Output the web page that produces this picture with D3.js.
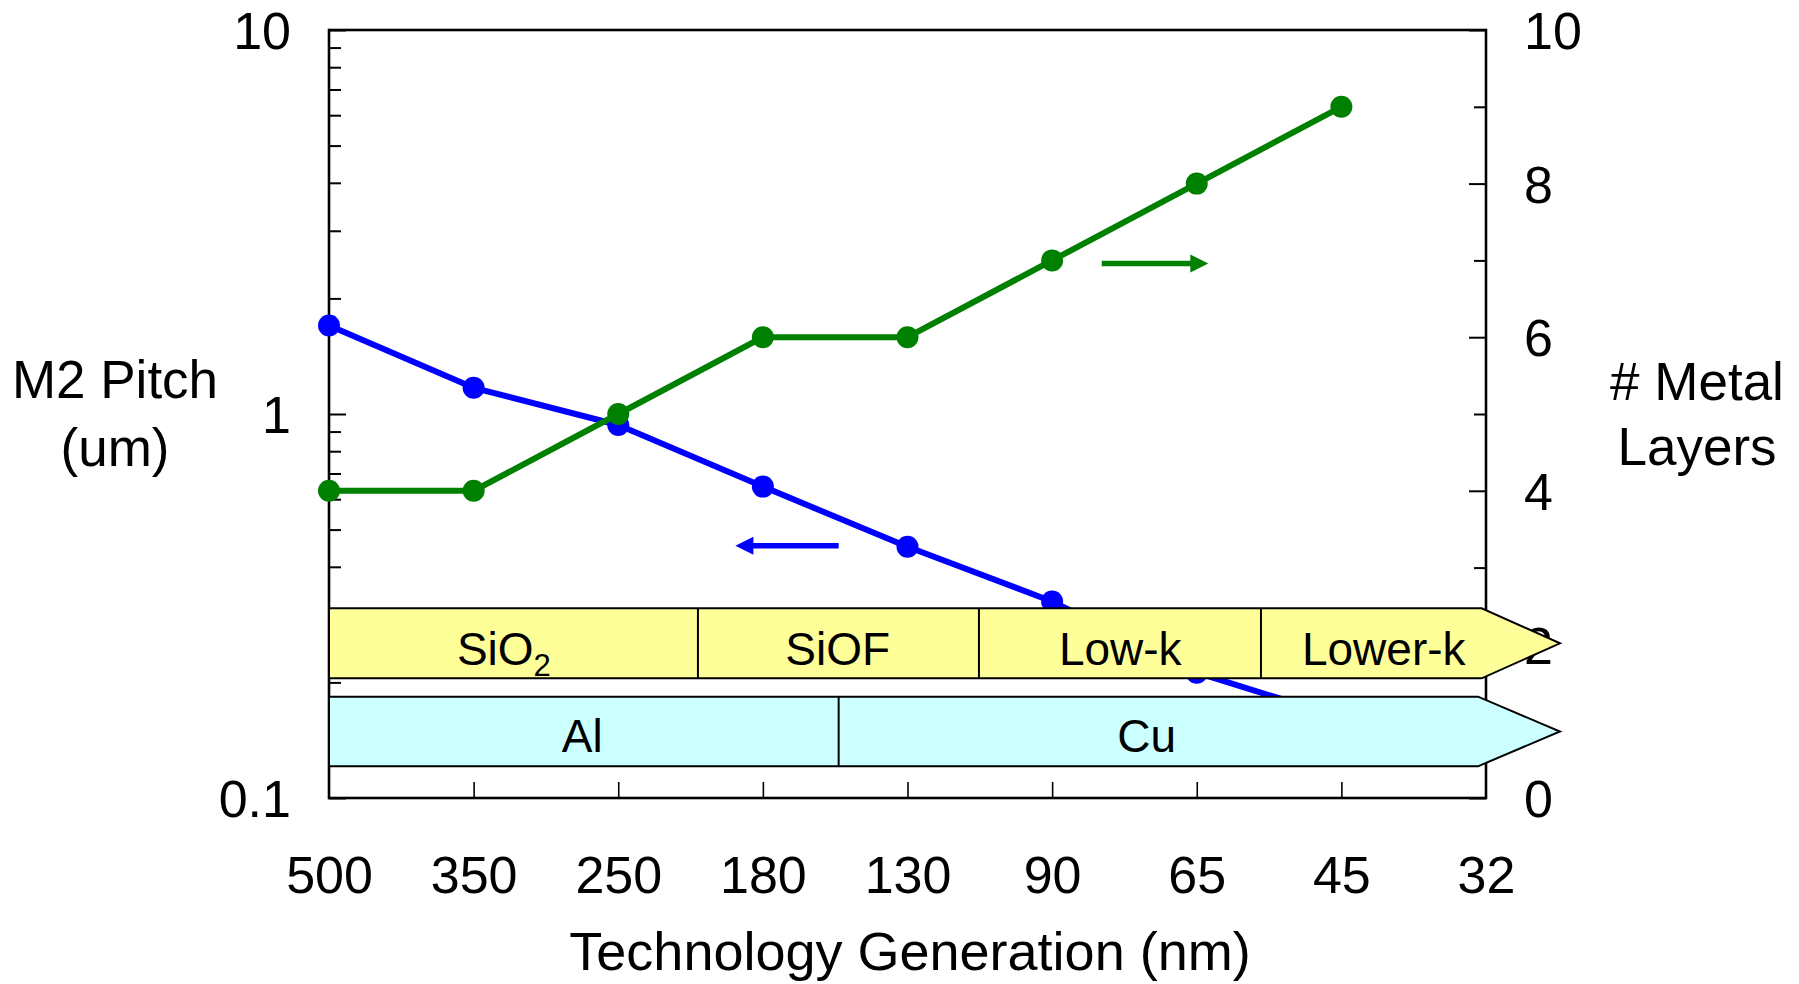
<!DOCTYPE html>
<html>
<head>
<meta charset="utf-8">
<script src="https://cdn.jsdelivr.net/npm/d3@7"></script>
<style>
  html, body { margin: 0; padding: 0; background: #fff; }
  svg { display: block; }
  text { font-family: "Liberation Sans", Arial, sans-serif; fill: #000; }
</style>
</head>
<body>
<svg id="chart" width="1799" height="984"></svg>
<script>
// ---------- data ----------
const generations = ["500", "350", "250", "180", "130", "90", "65", "45", "32"];
const pitchGenerations = ["500", "350", "250", "180", "130", "90", "65", "45"];
const m2Pitch = [1.70, 1.17, 0.936, 0.647, 0.451, 0.325, 0.212, 0.162];   // um (left, log)
const layerGenerations = ["500", "350", "250", "180", "130", "90", "65", "45"];
const metalLayers = [4, 4, 5, 6, 6, 7, 8, 9];                             // count (right)
const leftMajorTicks = [0.1, 1, 10];
const leftMinorTicks = [0.2, 0.3, 0.4, 0.5, 0.6, 0.7, 0.8, 0.9, 2, 3, 4, 5, 6, 7, 8, 9];
const rightMajorTicks = [0, 2, 4, 6, 8, 10];
const rightMinorTicks = [1, 3, 5, 7, 9];
// band segments, expressed as positions on the generation index axis
const dielectricNames = ["SiO", "SiOF", "Low-k", "Lower-k"];
const dielectricBounds = [0, 2.551, 4.494, 6.444, 7.97];
const dielectricLabelAt = [1.209, 3.517, 5.471, 7.293];
const metalNames = ["Al", "Cu"];
const metalBounds = [0, 3.524, 7.945];
const metalLabelAt = [1.751, 5.654];

// ---------- layout ----------
const svg = d3.select("#chart");
const L = 329, R = 1486, T = 30, B = 798;
const FONT = 53, TICKFONT = 52, BANDFONT = 46;

const x = d3.scalePoint().domain(generations).range([L, R]);
const xi = d3.scaleLinear().domain([0, generations.length - 1]).range([L, R]);
const yL = d3.scaleLog().domain([0.1, 10]).range([B, T]);
const yR = d3.scaleLinear().domain([0, 10]).range([B, T]);

// ---------- axes ----------
function styleAxis(g, sw) {
  g.select(".domain").remove();
  g.selectAll(".tick line").attr("stroke", "#000").attr("stroke-width", sw);
  g.selectAll(".tick text").style("font-family", '"Liberation Sans", Arial, sans-serif')
    .style("font-size", TICKFONT + "px").attr("fill", "#000");
}
// left
svg.append("g").attr("transform", `translate(${L},0)`)
  .call(d3.axisLeft(yL).tickValues(leftMinorTicks).tickSizeInner(-12).tickSizeOuter(0).tickFormat(""))
  .call(g => styleAxis(g, 2));
svg.append("g").attr("transform", `translate(${L},0)`)
  .call(d3.axisLeft(yL).tickValues(leftMajorTicks).tickSizeInner(-17).tickSizeOuter(0)
        .tickPadding(38).tickFormat(d => d === 0.1 ? "0.1" : String(d)))
  .call(g => styleAxis(g, 2))
  .call(g => g.selectAll(".tick text").attr("dy", "0.36em"));
// right
svg.append("g").attr("transform", `translate(${R},0)`)
  .call(d3.axisRight(yR).tickValues(rightMinorTicks).tickSizeInner(-12).tickSizeOuter(0).tickFormat(""))
  .call(g => styleAxis(g, 2));
svg.append("g").attr("transform", `translate(${R},0)`)
  .call(d3.axisRight(yR).tickValues(rightMajorTicks).tickSizeInner(-17).tickSizeOuter(0)
        .tickPadding(38).tickFormat(d3.format("d")))
  .call(g => styleAxis(g, 2))
  .call(g => g.selectAll(".tick text").attr("dy", "0.36em"));
// bottom
svg.append("g").attr("transform", `translate(0,${B})`)
  .call(d3.axisBottom(x).tickValues(generations.slice(1, -1)).tickSizeInner(-16).tickSizeOuter(0).tickFormat(""))
  .call(g => styleAxis(g, 1.6));
svg.append("g").attr("transform", `translate(0,${B})`)
  .call(d3.axisBottom(x).tickSizeInner(0).tickSizeOuter(0).tickPadding(58))
  .call(g => styleAxis(g, 0))
  .call(g => g.selectAll(".tick line").remove());

// frame
svg.append("rect").attr("x", L).attr("y", T).attr("width", R - L).attr("height", B - T)
  .attr("fill", "none").attr("stroke", "#000").attr("stroke-width", 2.6);

// titles
svg.append("text").attr("x", 910).attr("y", 970).attr("text-anchor", "middle")
  .style("font-size", "54px").text("Technology Generation (nm)");
const lt = svg.append("text").attr("text-anchor", "middle").style("font-size", FONT + "px");
lt.append("tspan").attr("x", 115).attr("y", 398).text("M2 Pitch");
lt.append("tspan").attr("x", 115).attr("y", 466).text("(um)");
const rt = svg.append("text").attr("text-anchor", "middle").style("font-size", FONT + "px");
rt.append("tspan").attr("x", 1697).attr("y", 400).text("# Metal");
rt.append("tspan").attr("x", 1697).attr("y", 465).text("Layers");

// ---------- series ----------
const BLUE = "#0000ff", GREEN = "#008000";
const pitchPts = pitchGenerations.map((g, i) => [x(g), yL(m2Pitch[i])]);
const layerPts = layerGenerations.map((g, i) => [x(g), yR(metalLayers[i])]);
const line = d3.line();
svg.append("path").attr("d", line(pitchPts)).attr("fill", "none").attr("stroke", BLUE)
  .attr("stroke-width", 6).attr("stroke-linejoin", "round");
svg.selectAll("circle.p").data(pitchPts).enter().append("circle").attr("class", "p")
  .attr("cx", d => d[0]).attr("cy", d => d[1]).attr("r", 11).attr("fill", BLUE);
svg.append("path").attr("d", line(layerPts)).attr("fill", "none").attr("stroke", GREEN)
  .attr("stroke-width", 6).attr("stroke-linejoin", "round");
svg.selectAll("circle.l").data(layerPts).enter().append("circle").attr("class", "l")
  .attr("cx", d => d[0]).attr("cy", d => d[1]).attr("r", 11).attr("fill", GREEN);

// direction arrows
function arrow(x1, x2, y, color) {
  const dir = Math.sign(x2 - x1), head = 18, half = 9;
  svg.append("line").attr("x1", x1).attr("x2", x2 - dir * head + dir * 1).attr("y1", y).attr("y2", y)
    .attr("stroke", color).attr("stroke-width", 5.5);
  svg.append("path").attr("d", `M${x2},${y} L${x2 - dir * head},${y - half} L${x2 - dir * head},${y + half} Z`)
    .attr("fill", color);
}
arrow(xi(3.524), xi(2.81), yL(0.454), BLUE);
arrow(xi(5.343), xi(6.08), yR(6.96), GREEN);

// ---------- bands ----------
function band(bounds, top, bottom, fill, names, labelAt, baseline) {
  const x0 = xi(bounds[0]), xe = xi(bounds[bounds.length - 1]), tip = 1560, mid = (top + bottom) / 2;
  svg.append("path")
    .attr("d", `M${x0},${top} L${xe},${top} L${tip},${mid} L${xe},${bottom} L${x0},${bottom} Z`)
    .attr("fill", fill).attr("stroke", "#000").attr("stroke-width", 2).attr("stroke-linejoin", "miter");
  bounds.slice(1, -1).forEach(b => {
    svg.append("line").attr("x1", xi(b)).attr("x2", xi(b)).attr("y1", top).attr("y2", bottom)
      .attr("stroke", "#000").attr("stroke-width", 2);
  });
  names.forEach((n, i) => {
    const t = svg.append("text").attr("x", xi(labelAt[i])).attr("y", baseline)
      .attr("text-anchor", "middle").style("font-size", BANDFONT + "px");
    t.append("tspan").text(n);
    if (n === "SiO") t.append("tspan").attr("dy", 11).style("font-size", "31px").text("2");
  });
}
band(dielectricBounds, 608.3, 678.3, "#ffff99", dielectricNames, dielectricLabelAt, 665);
band(metalBounds, 696.7, 766.3, "#ccffff", metalNames, metalLabelAt, 751.5);
</script>
</body>
</html>
